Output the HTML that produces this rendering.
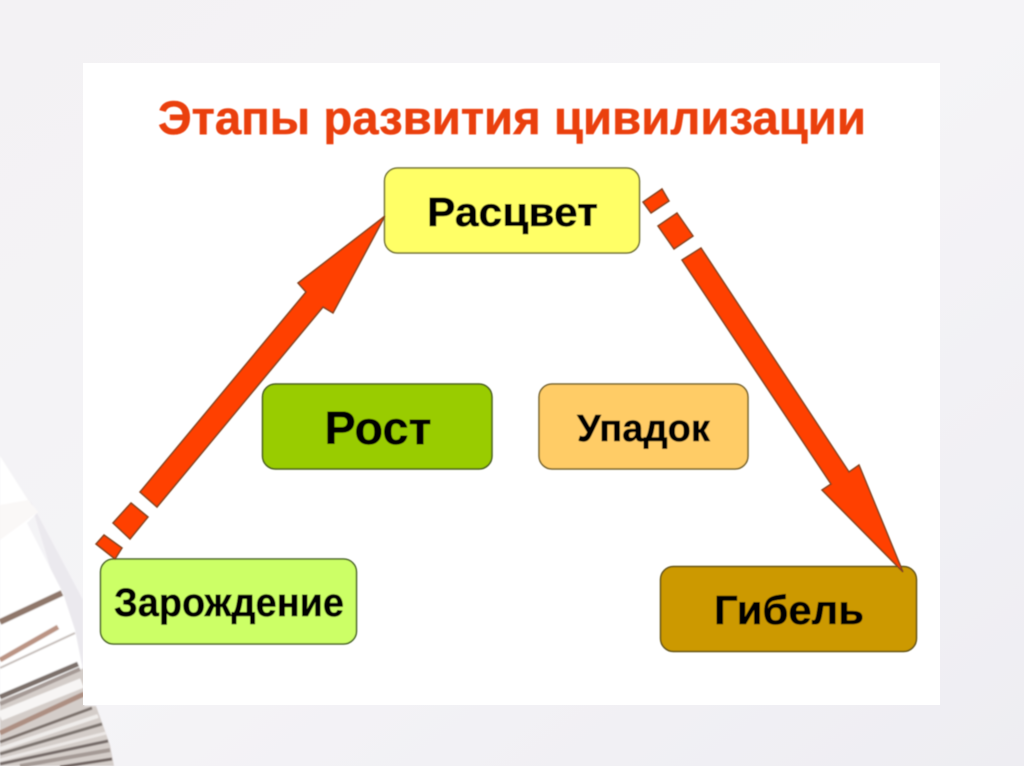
<!DOCTYPE html>
<html><head><meta charset="utf-8"><style>
html,body{margin:0;padding:0;background:#f0eff3}
svg{display:block}
text{font-family:"Liberation Sans",sans-serif;font-weight:bold}
</style></head><body>
<svg xmlns="http://www.w3.org/2000/svg" width="1024" height="767" viewBox="0 0 1024 767">
<defs>
<linearGradient id="bg" x1="0" y1="0" x2="1" y2="1"><stop offset="0" stop-color="#f3f2f4"/><stop offset=".5" stop-color="#f5f4f7"/><stop offset="1" stop-color="#eeedf2"/></linearGradient>
<filter id="b" x="-10%" y="-10%" width="120%" height="120%"><feGaussianBlur stdDeviation="0.8"/></filter>
<filter id="t" x="-5%" y="-5%" width="110%" height="110%"><feGaussianBlur stdDeviation="0.45"/></filter>
</defs>
<rect width="1024" height="767" fill="url(#bg)"/>
<g filter="url(#b)">
<polygon points="30,500 83,600 83,705 60,600" fill="#ebe9ee"/>
<polygon points="0,456 28,500 38,512 27,523 63,593 75,630 82,665 84,705 0,740" fill="#fff"/>
<polygon points="0,505 28,500 38,512 0,540" fill="#faf8f7"/>
<polygon points="0,700 84,668 84,706 96,706 110,745 114,766 0,766" fill="#d4cdc9"/>
<g fill="none" stroke-linecap="butt">
<path d="M0,622 L62,593" stroke="#8f776a" stroke-width="6"/>
<path d="M0,630 L40,612" stroke="#fff" stroke-width="4"/>
<path d="M0,660 L58,627" stroke="#bb9484" stroke-width="5"/>
<path d="M0,668 L75,633" stroke="#c4bcb8" stroke-width="2"/>
<path d="M0,697 L78,664" stroke="#7b6f6a" stroke-width="5"/>
<path d="M0,704 L80,669" stroke="#a59a95" stroke-width="4"/>
<path d="M0,716 L82,683" stroke="#f7f5f4" stroke-width="10"/>
<path d="M0,733 L84,694" stroke="#ad8f82" stroke-width="5"/>
<path d="M0,742 L92,708" stroke="#7c716c" stroke-width="3"/>
<path d="M0,749 L98,716" stroke="#efecea" stroke-width="4"/>
<path d="M0,754 L102,724" stroke="#7d7470" stroke-width="3"/>
<path d="M0,760 L106,733" stroke="#ece8e6" stroke-width="3"/>
<path d="M0,764 L108,741" stroke="#756b67" stroke-width="3"/>
<path d="M20,766 L110,750" stroke="#a49a95" stroke-width="4"/>
<path d="M60,767 L112,759" stroke="#6f6460" stroke-width="3"/>
</g>
</g>
<rect x="0" y="766" width="1024" height="1" fill="#fff"/>
<rect x="83" y="63" width="857" height="642" fill="#fff"/>
<g filter="url(#t)">
<g stroke-width="1.500">
<rect x="384.500" y="168" width="255" height="85" rx="13" fill="#ffff66" stroke="#6f6f34"/>
<rect x="262.500" y="384" width="229.500" height="85" rx="13" fill="#99cc00" stroke="#465c1c"/>
<rect x="539" y="384" width="209" height="85" rx="13" fill="#ffcc66" stroke="#75622e"/>
<rect x="100.500" y="559" width="256" height="85" rx="13" fill="#ccff66" stroke="#466226"/>
<rect x="660.500" y="566.500" width="256" height="85" rx="13" fill="#cc9900" stroke="#625216"/>
</g>
<g fill="#ff3f00" stroke="#84421f" stroke-width="1.500" stroke-linejoin="miter">
<polygon points="385,216 333,313 323,307 157,507 140,492 306,292 298,283"/>
<polygon points="131,503 148,517 130,539 113,523"/>
<polygon points="104,535 122,548 115,559 96,544"/>
<polygon points="701,248 849,472 859,465 903,572 822,490 831,484 682,260"/>
<polygon points="677,213 693,236 674,249 658,226"/>
<polygon points="662,189 669,201 651,213 643,202"/>
</g>
<g stroke-width="0.500">
<text x="512" y="134" text-anchor="middle" font-size="47" fill="#ea3f10" stroke="#ea3f10" textLength="708" lengthAdjust="spacingAndGlyphs">Этапы развития цивилизации</text>
<text x="512.500" y="226" text-anchor="middle" font-size="41" fill="#050505" stroke="#050505" textLength="171" lengthAdjust="spacingAndGlyphs">Расцвет</text>
<text x="378" y="444" text-anchor="middle" font-size="46" fill="#050505" stroke="#050505" textLength="107" lengthAdjust="spacingAndGlyphs">Рост</text>
<text x="643.500" y="441" text-anchor="middle" font-size="38" fill="#050505" stroke="#050505" textLength="133" lengthAdjust="spacingAndGlyphs">Упадок</text>
<text x="229" y="616" text-anchor="middle" font-size="40" fill="#050505" stroke="#050505" textLength="230" lengthAdjust="spacingAndGlyphs">Зарождение</text>
<text x="789" y="624" text-anchor="middle" font-size="41" fill="#050505" stroke="#050505" textLength="150" lengthAdjust="spacingAndGlyphs">Гибель</text>
</g>
</g>
</svg>
</body></html>
